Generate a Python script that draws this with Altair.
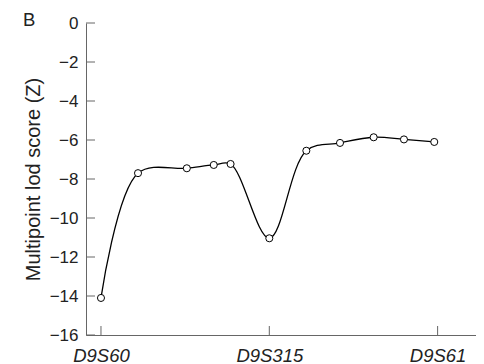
import altair as alt
import pandas as pd

# marker names and their map positions
markers = ["D9S60", "D9S315", "D9S61"]
marker_pos = [0, 1, 2]

# multipoint lod score curve
pos = [0.0, 0.22, 0.51, 0.67, 0.77, 1.0, 1.22, 1.42, 1.62, 1.80, 1.98]
lod = [-14.1, -7.7, -7.45, -7.28, -7.23, -11.04, -6.55, -6.15, -5.86, -5.97, -6.1]

y_ticks = [-16, -14, -12, -10, -8, -6, -4, -2, 0]
panel = ["B"]

W, H = 390, 312
AXC = "#666666"
FONT = "Liberation Sans"

df = pd.DataFrame({"pos": pos, "lod": lod})
ydf = pd.DataFrame({"pos": [0.0] * len(y_ticks), "lod": y_ticks})
xdf = pd.DataFrame({"pos": marker_pos, "lod": [-16] * len(marker_pos), "name": markers})
tdf = pd.DataFrame({"t": panel})

label_expr = "datum.value == 0 ? 'D9S60' : datum.value == 1 ? 'D9S315' : 'D9S61'"

xscale = alt.Scale(domain=[-0.089, 2.228], nice=False, zero=False)
yscale = alt.Scale(domain=[-16, 0], nice=False, zero=False)

x_axis = alt.Axis(
    values=marker_pos,
    labelExpr=label_expr,
    title=None,
    ticks=False,
    grid=False,
    labelFontStyle="italic",
    labelFontSize=18.5,
    labelBaseline="alphabetic",
    labelPadding=26,
    labelFont=FONT,
    labelColor="#222222",
    labelOverlap=False,
    domainColor=AXC,
)
y_axis = alt.Axis(
    values=y_ticks,
    title="Multipoint lod score (Z)",
    titleFontSize=20,
    titleFontWeight="normal",
    titleFont=FONT,
    titleColor="#222222",
    titlePadding=6,
    ticks=False,
    grid=False,
    labelFontSize=17,
    labelPadding=8,
    labelFont=FONT,
    labelColor="#222222",
    labelOverlap=False,
    domainColor=AXC,
)

X = alt.X("pos:Q", scale=xscale, axis=x_axis)
Y = alt.Y("lod:Q", scale=yscale, axis=y_axis)

line = alt.Chart(df).mark_line(
    interpolate="catmull-rom", color="black", strokeWidth=1.3
).encode(x=X, y=Y)

points = alt.Chart(df).mark_point(
    shape="circle", filled=True, fill="white", stroke="black", strokeWidth=1, size=50, opacity=1
).encode(x=X, y=Y)

yt = alt.Chart(ydf).mark_rule(color=AXC, strokeWidth=1).encode(
    y=Y, x=alt.value(0), x2=alt.value(9)
)
xt = alt.Chart(xdf).mark_rule(color=AXC, strokeWidth=1).encode(
    x=X, y=alt.value(H), y2=alt.value(H - 9)
)

label = alt.Chart(tdf).mark_text(
    align="left", baseline="alphabetic", fontSize=18.5, font=FONT, color="#222222"
).encode(text="t:N", x=alt.value(-63), y=alt.value(3))

chart = (
    alt.layer(line, yt, xt, points, label)
    .properties(
        width=W,
        height=H,
        autosize=alt.AutoSizeParams(type="none"),
        padding={"left": 78, "top": 15, "right": 0, "bottom": 29},
    )
    .configure_view(stroke=None)
)

chart.save("out.html", embed_options={"renderer": "svg", "actions": False})
